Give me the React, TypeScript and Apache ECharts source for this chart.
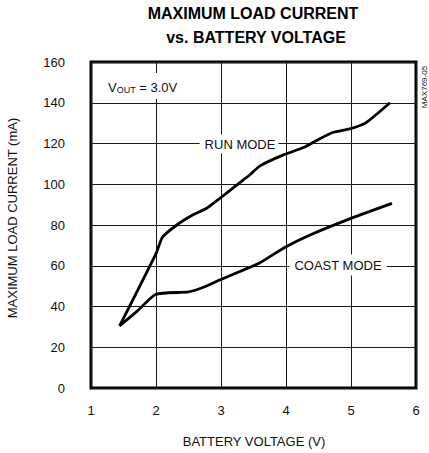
import React, { useEffect, useRef } from "react";
import * as echarts from "echarts";

const xTicks = [1, 2, 3, 4, 5, 6];
const yTicks = [0, 20, 40, 60, 80, 100, 120, 140, 160];

const runModeV = [1.44, 2.0, 2.1, 2.32, 2.57, 2.78, 2.98, 3.24, 3.45, 3.6, 3.96, 4.27, 4.5, 4.73, 4.98, 5.22, 5.6];
const runModeI = [30.5, 66, 74, 80, 85, 88.2, 93, 99.6, 104.8, 109, 114.4, 118, 122, 125.5, 127.2, 130, 140];

const coastModeV = [1.44, 1.72, 2.0, 2.5, 2.75, 2.98, 3.29, 3.6, 3.98, 4.37, 4.98, 5.63];
const coastModeI = [30.5, 38, 46, 47.2, 49.7, 53, 57.2, 61.5, 69, 75.1, 83, 90.6];

const FONT = "'Liberation Sans', Arial, Helvetica, sans-serif";

export default function App() {
  const ref = useRef<HTMLDivElement>(null);

  useEffect(() => {
    document.body.style.margin = "0";
    if (!ref.current) return;
    const chart = echarts.init(ref.current, undefined, { renderer: "svg" });
    const runData = runModeV.map((v, i) => [v, runModeI[i]]);
    const coastData = coastModeV.map((v, i) => [v, coastModeI[i]]);

    chart.setOption({
      animation: false,
      backgroundColor: "#fff",
      textStyle: { fontFamily: FONT },
      grid: {
        left: 91,
        right: 13,
        top: 62,
        bottom: 65,
        show: true,
        borderColor: "#000",
        borderWidth: 3,
        backgroundColor: "transparent",
      },
      xAxis: {
        type: "value",
        min: xTicks[0],
        max: xTicks[xTicks.length - 1],
        interval: 1,
        axisLine: { show: false },
        axisTick: { show: false },
        splitLine: { show: true, lineStyle: { color: "#1a1a1a", width: 1 } },
        axisLabel: { color: "#111", fontSize: 13, margin: 16, fontFamily: FONT },
      },
      yAxis: {
        type: "value",
        min: yTicks[0],
        max: yTicks[yTicks.length - 1],
        interval: 20,
        axisLine: { show: false },
        axisTick: { show: false },
        splitLine: { show: true, lineStyle: { color: "#1a1a1a", width: 1 } },
        axisLabel: {
          color: "#111",
          fontSize: 13,
          margin: 26,
          padding: [7, 0, 0, 0],
          fontFamily: FONT,
        },
      },
      series: [
        {
          name: "RUN MODE",
          type: "line",
          data: runData,
          smooth: 0.2,
          symbol: "none",
          lineStyle: { color: "#000", width: 2.8 },
          z: 5,
        },
        {
          name: "COAST MODE",
          type: "line",
          data: coastData,
          smooth: 0.2,
          symbol: "none",
          lineStyle: { color: "#000", width: 2.8 },
          z: 5,
        },
      ],
      graphic: [
        {
          type: "text",
          x: 253,
          y: 13,
          style: {
            text: "MAXIMUM LOAD CURRENT",
            font: `bold 16px ${FONT}`,
            fill: "#000",
            align: "center",
            verticalAlign: "middle",
          },
        },
        {
          type: "text",
          x: 256,
          y: 37,
          style: {
            text: "vs. BATTERY VOLTAGE",
            font: `bold 16px ${FONT}`,
            fill: "#000",
            align: "center",
            verticalAlign: "middle",
          },
        },
        {
          type: "text",
          x: 254,
          y: 441,
          style: {
            text: "BATTERY VOLTAGE (V)",
            font: `13px ${FONT}`,
            fill: "#111",
            align: "center",
            verticalAlign: "middle",
          },
        },
        {
          type: "text",
          x: 12,
          y: 218,
          rotation: Math.PI / 2,
          style: {
            text: "MAXIMUM LOAD CURRENT (mA)",
            font: `13px ${FONT}`,
            fill: "#111",
            align: "center",
            verticalAlign: "middle",
          },
        },
        {
          type: "text",
          x: 424,
          y: 87,
          rotation: Math.PI / 2,
          style: {
            text: "MAX769-05",
            font: `8px ${FONT}`,
            fill: "#111",
            align: "center",
            verticalAlign: "middle",
          },
        },
        {
          type: "text",
          x: 239,
          y: 144,
          z: 10,
          style: {
            text: "RUN MODE",
            font: `13px ${FONT}`,
            fill: "#111",
            align: "center",
            verticalAlign: "middle",
            backgroundColor: "#fff",
            padding: [3, 3, 3, 5],
          },
        },
        {
          type: "text",
          x: 338,
          y: 265,
          z: 10,
          style: {
            text: "COAST MODE",
            font: `13px ${FONT}`,
            fill: "#111",
            align: "center",
            verticalAlign: "middle",
            backgroundColor: "#fff",
            padding: [4, 5, 4, 5],
          },
        },
        {
          type: "text",
          x: 106,
          y: 86,
          z: 10,
          style: {
            text: "{a|V}{b|OUT}{a| = 3.0V}",
            fill: "#111",
            align: "left",
            verticalAlign: "middle",
            backgroundColor: "#fff",
            padding: [5, 2, 5, 2],
            rich: {
              a: { fontSize: 13, fontFamily: FONT, lineHeight: 16, verticalAlign: "bottom", fill: "#111" },
              b: { fontSize: 9, fontFamily: FONT, lineHeight: 16, verticalAlign: "bottom", padding: [6, 0, 0, 0], fill: "#111" },
            },
          },
        },
      ],
    });

    return () => chart.dispose();
  }, []);

  return <div ref={ref} style={{ width: 429, height: 453 }} />;
}
